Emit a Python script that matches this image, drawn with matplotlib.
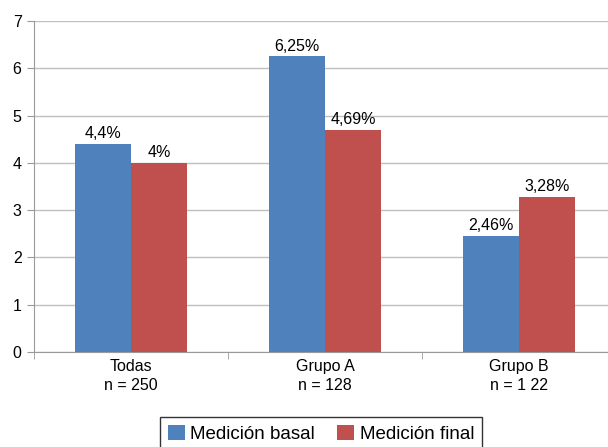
import numpy as np
import matplotlib
matplotlib.use("Agg")
import matplotlib.pyplot as plt

plt.rcParams["font.family"] = ["Liberation Sans", "DejaVu Sans"]

# data
categories = ["Todas\nn = 250", "Grupo A\nn = 128", "Grupo B\nn = 1 22"]
basal = [4.4, 6.25, 2.46]
final = [4.0, 4.69, 3.28]
basal_labels = ["4,4%", "6,25%", "2,46%"]
final_labels = ["4%", "4,69%", "3,28%"]

blue = "#4F81BD"
red = "#C0504D"

fig = plt.figure(figsize=(6.08, 4.47), dpi=100)
ax = fig.add_axes([34 / 608, 1 - 352 / 447, 582 / 608, 331 / 447])

x = np.arange(len(categories))
w = 0.29
b1 = ax.bar(x - w / 2, basal, w, color=blue, label="Medición basal", zorder=3)
b2 = ax.bar(x + w / 2, final, w, color=red, label="Medición final", zorder=3)

ax.bar_label(b1, labels=basal_labels, padding=2, fontsize=11.5)
ax.bar_label(b2, labels=final_labels, padding=2, fontsize=11.5)

ax.set_xlim(-0.5, 2.5)
ax.set_ylim(0, 7)
ax.set_yticks(range(8))
ax.set_xticks(x)
ax.set_xticklabels(categories, fontsize=11.5, linespacing=1.3)
ax.set_xticks([-0.5, 0.5, 1.5, 2.5], minor=True)
ax.tick_params(axis="x", which="major", length=0, pad=5)
ax.tick_params(axis="x", which="minor", length=5, color="#999999")
ax.tick_params(axis="y", length=5, color="#999999", labelsize=11.5, pad=4)

ax.yaxis.grid(True, color="#BFBFBF", linewidth=1, zorder=0)
for side in ["top", "right"]:
    ax.spines[side].set_visible(False)
for side in ["left", "bottom"]:
    ax.spines[side].set_color("#999999")

leg = fig.legend(
    handles=[b1, b2],
    loc="center",
    bbox_to_anchor=(321 / 608, 1 - 434 / 447),
    ncol=2,
    fontsize=13.5,
    frameon=True,
    fancybox=False,
    handlelength=0.9,
    handleheight=0.9,
    handletextpad=0.3,
    columnspacing=1.2,
    borderpad=0.4,
)
leg.get_frame().set_edgecolor("black")
leg.get_frame().set_linewidth(1)

fig.savefig("out.png", dpi=100)
